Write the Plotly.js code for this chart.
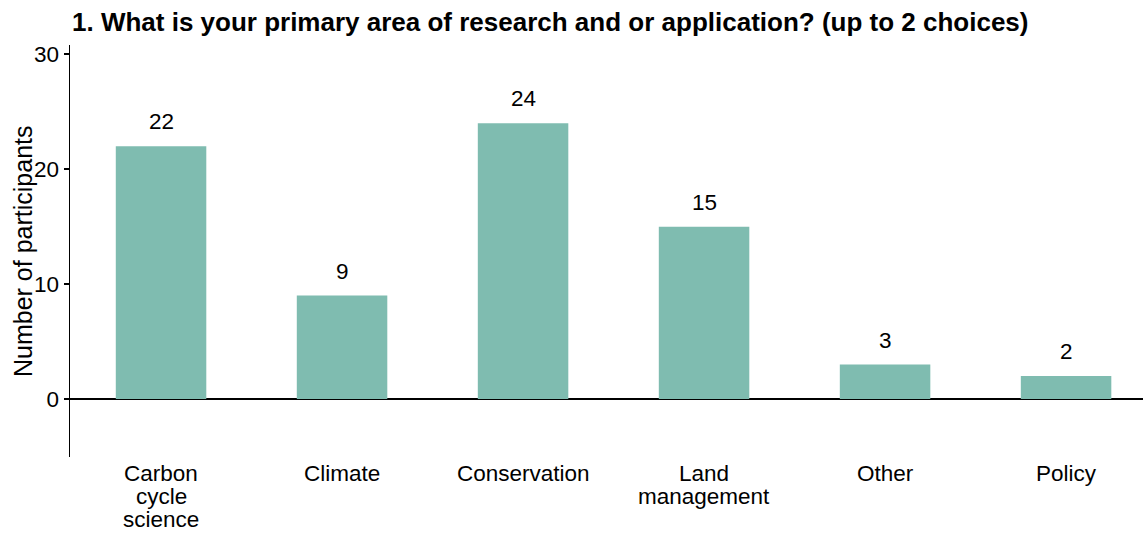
<!DOCTYPE html>
<html>
<head>
<meta charset="utf-8">
<script src="https://cdn.plot.ly/plotly-3.0.1.min.js"></script>
<style>html,body{margin:0;padding:0;background:#fff;}#chart{width:1143px;height:533px;}</style>
</head>
<body>
<div id="chart"></div>
<script>
const categories = ["Carbon cycle science", "Climate", "Conservation", "Land management", "Other", "Policy"];
const categoryLines = [["Carbon", "cycle", "science"], ["Climate"], ["Conservation"], ["Land", "management"], ["Other"], ["Policy"]];
const counts = [22, 9, 24, 15, 3, 2];
const yTicks = [0, 10, 20, 30];
const titleText = "1. What is your primary area of research and or application? (up to 2 choices)";
const yTitle = "Number of participants";

const font = "Liberation Sans, Arial, sans-serif";

const trace = {
  type: "bar",
  x: categories,
  y: counts,
  width: 0.5,
  marker: {color: "#7fbcb0"},
  hoverinfo: "x+y"
};

const annotations = categories.map((c, i) => ({
  x: c, y: counts[i], xref: "x", yref: "y",
  text: String(counts[i]), showarrow: false,
  yanchor: "bottom", yshift: 10,
  font: {family: font, size: 22.5, color: "#000"}
}));

categoryLines.forEach((lines, i) => {
  lines.forEach((line, k) => {
    annotations.push({
      x: categories[i], y: 0, xref: "x", yref: "paper",
      text: line, showarrow: false,
      yanchor: "middle", yshift: -(16 + 23 * k),
      font: {family: font, size: 22.5, color: "#000"}
    });
  });
});

annotations.push({
  x: 0, y: 0.5, xref: "paper", yref: "paper",
  xshift: -47, text: yTitle, textangle: -90, showarrow: false,
  xanchor: "center", yanchor: "middle",
  font: {family: font, size: 25, color: "#000"}
});

const layout = {
  width: 1143, height: 533,
  margin: {l: 70, r: 0, t: 45, b: 76},
  paper_bgcolor: "#fff", plot_bgcolor: "#fff",
  showlegend: false,
  font: {family: font, color: "#000"},
  title: {
    text: "<b>" + titleText + "</b>",
    x: 72 / 1143, xref: "container", xanchor: "left",
    y: 1 - 22/533, yref: "container", yanchor: "middle",
    font: {family: font, size: 26, color: "#000"}
  },
  xaxis: {
    type: "category",
    range: [-0.503, 5.425],
    showline: false, showgrid: false, zeroline: false,
    ticks: "", showticklabels: false,
    fixedrange: true
  },
  yaxis: {
    range: [-5.04, 30.8],
    tickvals: yTicks,
    showline: true, linecolor: "#000", linewidth: 1.5,
    ticks: "outside", ticklen: 5, tickcolor: "#000", tickwidth: 1.5,
    showgrid: false,
    zeroline: true, zerolinecolor: "#000", zerolinewidth: 1.5,
    tickfont: {family: font, size: 22.5, color: "#000"},
    automargin: false,
    fixedrange: true
  },
  annotations: annotations
};

Plotly.newPlot("chart", [trace], layout, {displayModeBar: false, staticPlot: true});
</script>
</body>
</html>
